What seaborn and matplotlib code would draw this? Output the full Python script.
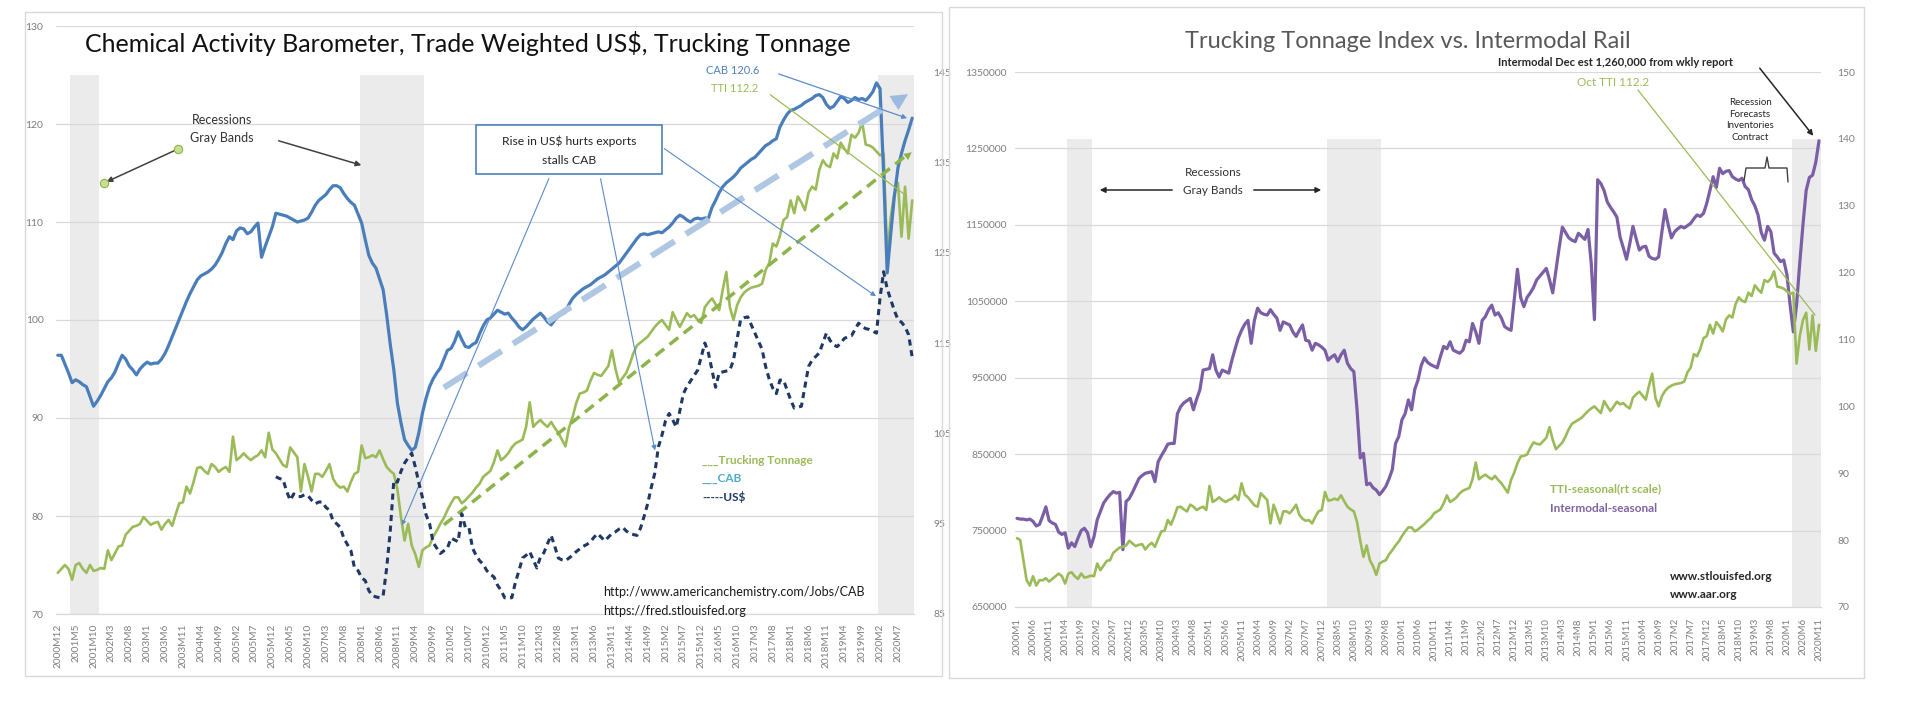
import numpy as np
import pandas as pd
import matplotlib
matplotlib.use("Agg")
import matplotlib.pyplot as plt
import seaborn as sns
from matplotlib.patches import Rectangle, FancyArrowPatch
from matplotlib.lines import Line2D

# ---------------- data ----------------
# Left chart categories: 2000M12 .. 2020M11 (monthly)
left_months = pd.period_range("2000-12", "2020-11", freq="M")
# Right chart categories: 2000M1 .. 2020M11 (monthly)
right_months = pd.period_range("2000-01", "2020-11", freq="M")

# Chemical Activity Barometer (left chart, left axis), 2000M12..2020M11
cab_values = [
    96.4, 96.4, 95.5, 94.6, 93.6, 93.9, 93.7, 93.4, 93.2, 92.2,
    91.2, 91.7, 92.3, 93.0, 93.7, 94.1, 94.7, 95.6, 96.4, 96.0,
    95.3, 94.9, 94.4, 95.0, 95.4, 95.7, 95.5, 95.6, 95.6, 96.0,
    96.6, 97.4, 98.3, 99.2, 100.1, 101.0, 101.9, 102.7, 103.4, 104.1,
    104.5, 104.7, 104.9, 105.2, 105.6, 106.2, 106.9, 107.8, 108.5, 108.2,
    109.1, 109.4, 109.3, 108.8, 109.0, 109.5, 109.9, 106.4, 107.5, 108.5,
    109.5, 110.9, 110.8, 110.7, 110.6, 110.4, 110.2, 110.0, 110.1, 110.2,
    110.4, 111.0, 111.7, 112.2, 112.5, 112.8, 113.3, 113.7, 113.7, 113.5,
    112.9, 112.4, 112.0, 111.7, 110.8, 109.9, 108.2, 106.6, 105.8, 105.3,
    104.2, 103.1, 100.5, 97.5, 94.9, 91.5, 89.5, 87.8, 87.2, 86.7,
    87.0, 88.5, 90.5, 92.0, 93.2, 94.0, 94.6, 95.1, 96.0, 96.9,
    97.1, 97.8, 98.8, 98.0, 97.3, 97.2, 97.5, 97.7, 98.6, 99.4,
    100.0, 100.2, 100.6, 101.0, 100.8, 100.6, 100.7, 100.2, 99.8, 99.3,
    99.0, 99.3, 99.7, 100.1, 100.4, 100.7, 100.3, 99.8, 99.5, 100.0,
    100.4, 100.6, 100.8, 101.6, 102.2, 102.6, 102.9, 103.2, 103.4, 103.6,
    103.9, 104.2, 104.4, 104.6, 104.9, 105.2, 105.5, 105.8, 106.3, 106.8,
    107.3, 107.8, 108.3, 108.7, 108.8, 108.7, 108.8, 108.9, 109.0, 108.9,
    109.2, 109.5, 109.9, 110.4, 110.7, 110.5, 110.2, 110.0, 110.3, 110.4,
    110.3, 110.4, 110.4, 111.5, 112.2, 113.0, 113.6, 114.0, 114.3, 114.6,
    115.0, 115.5, 115.8, 116.1, 116.4, 116.6, 117.0, 117.4, 117.8, 118.0,
    118.3, 118.5, 119.7, 120.4, 121.0, 121.4, 121.5, 121.7, 121.9, 122.2,
    122.4, 122.6, 122.9, 123.0, 122.7, 122.0, 121.6, 121.8, 122.3, 122.8,
    122.6, 122.2, 122.4, 122.7, 122.5, 122.6, 122.4, 122.8, 123.3, 124.2,
    123.6, 115.0, 104.8, 108.8, 112.6, 115.5, 117.0, 118.3, 119.4, 120.6,
]

# Truck Tonnage Index, 2000M1..2020M11 (left chart uses it from 2000M12)
tti_values = [
    80.3, 80.0, 77.0, 74.0, 73.2, 74.6, 73.2, 74.0, 74.0, 74.3, 73.8,
    74.2, 74.6, 75.0, 74.6, 73.5, 75.0, 75.2, 74.6, 74.2, 75.0,
    74.4, 74.5, 74.7, 74.6, 76.5, 75.5, 76.2, 76.9, 77.0, 78.1,
    78.5, 78.9, 79.0, 79.2, 79.9, 79.5, 79.1, 79.3, 79.4, 78.6,
    79.2, 79.6, 79.0, 80.2, 81.3, 81.4, 83.0, 82.3, 83.5, 84.9,
    85.0, 84.6, 84.3, 85.3, 85.0, 84.5, 84.8, 85.0, 84.5, 88.1,
    85.7, 86.0, 86.4, 86.0, 85.7, 86.0, 86.2, 86.7, 86.0, 88.5,
    86.8, 86.4, 85.8, 85.2, 85.0, 87.0, 86.5, 86.0, 82.5, 85.3,
    84.0, 82.5, 84.3, 84.3, 84.0, 84.6, 85.3, 83.8, 83.2, 82.9,
    83.0, 82.5, 83.5, 84.3, 84.5, 87.2, 85.9, 86.0, 86.2, 86.0,
    86.7, 85.8, 85.0, 84.6, 84.3, 82.7, 79.9, 77.5, 79.2, 77.0,
    76.1, 74.8, 76.5, 76.8, 77.0, 77.9, 78.5, 79.2, 79.8, 80.6,
    81.3, 81.9, 81.9, 81.3, 81.6, 82.0, 82.4, 82.9, 83.3, 84.0,
    84.3, 84.6, 85.5, 86.7, 85.7, 86.0, 86.4, 87.0, 87.4, 87.6,
    87.8, 89.1, 91.6, 89.1, 89.5, 89.8, 89.4, 89.1, 89.6, 89.0,
    88.5, 87.8, 87.1, 89.0, 90.1, 91.5, 92.5, 92.6, 92.8, 93.8,
    94.6, 94.4, 94.3, 94.8, 95.3, 96.9, 95.0, 93.6, 94.1, 94.6,
    95.5, 96.6, 97.4, 97.7, 98.0, 98.3, 98.8, 99.3, 99.7, 100.0,
    99.5, 99.0, 100.8, 100.0, 99.3, 100.0, 100.7, 100.3, 100.5, 100.0,
    99.7, 101.3, 101.8, 102.2, 101.6, 101.0, 103.1, 104.9, 101.3, 100.0,
    101.5, 102.3, 102.8, 103.1, 103.3, 103.4, 103.5, 103.7, 105.1, 105.8,
    107.8, 107.5, 108.6, 110.2, 110.5, 112.2, 110.9, 112.6, 112.0, 111.2,
    113.0, 113.6, 113.3, 115.3, 116.3, 115.8, 115.6, 117.0, 116.5, 118.1,
    117.5, 117.0, 118.9, 118.6, 119.1, 120.2, 117.9, 117.8, 117.6, 117.2,
    116.8, 117.0, 106.4, 110.5, 112.9, 114.0, 108.5, 113.6, 108.3, 112.2,
]

# Trade weighted US$ (left chart, right axis), 2006M1..2020M11
usd_start = "2006-01"
usd_values = [
    100.2, 100.0, 99.9, 98.6, 97.6, 98.3, 98.0, 98.0, 98.2, 98.1,
    97.6, 97.2, 97.4, 97.4, 96.8, 96.5, 95.3, 95.0, 94.6, 93.4,
    92.7, 92.0, 90.1, 89.8, 89.0, 88.7, 87.6, 87.0, 86.9, 86.8,
    87.0, 90.1, 94.2, 99.8, 99.6, 100.8, 101.7, 102.3, 102.8, 101.3,
    99.5, 97.9, 96.0, 95.0, 92.9, 92.3, 91.7, 92.0, 92.3, 93.4,
    93.2, 93.0, 96.1, 94.6, 94.6, 92.3, 91.5, 90.9, 90.5, 89.8,
    89.4, 89.1, 88.2, 87.6, 86.8, 86.8, 86.8, 88.5, 89.8, 91.2,
    91.5, 91.9, 91.0, 90.1, 91.3, 91.8, 92.8, 93.7, 92.5, 91.2,
    91.0, 90.9, 91.2, 91.5, 91.9, 92.2, 92.5, 92.7, 93.0, 93.5,
    93.9, 93.5, 93.1, 93.5, 93.9, 94.1, 94.4, 94.6, 94.2, 93.9,
    93.8, 93.7, 94.5, 95.8, 97.2, 99.0, 100.6, 103.5, 104.8, 106.4,
    107.2, 106.5, 105.7, 107.5, 109.4, 110.2, 110.8, 111.4, 112.0, 113.5,
    115.0, 113.9, 112.0, 110.1, 111.7, 111.8, 111.9, 112.0, 113.1, 115.4,
    117.6, 117.8, 117.9, 117.0, 116.1, 115.2, 114.3, 112.4, 111.0, 110.0,
    109.4, 110.9, 110.9, 109.8, 108.7, 107.8, 107.9, 108.0, 110.2, 112.4,
    113.1, 113.5, 113.9, 115.0, 116.1, 115.3, 114.8, 114.6, 115.0, 115.5,
    115.7, 115.8, 116.5, 117.2, 116.8, 116.6, 116.5, 116.3, 116.1, 120.0,
    122.9, 121.0, 119.8, 118.6, 117.6, 117.3, 116.8, 115.9, 113.4,
]

# Intermodal rail units, seasonal (right chart, left axis), thousands, 2000M1..2020M11
intermodal_thousands = [
    766, 765, 765, 764, 765, 762, 756, 758, 769, 781,
    763, 760, 758, 748, 745, 747, 727, 734, 729, 740,
    750, 753, 747, 729, 742, 764, 775, 786, 792, 797,
    801, 799, 800, 725, 788, 792, 800, 809, 818, 822,
    825, 826, 827, 814, 840, 848, 855, 863, 864, 864,
    903, 912, 917, 920, 923, 908, 922, 934, 960, 961,
    962, 980, 960, 951, 960, 958, 956, 973, 988, 1002,
    1012, 1020, 1025, 995, 1025, 1041, 1035, 1033, 1032, 1039,
    1033, 1028, 1012, 1023, 1021, 1019, 1010, 1004, 1012, 1019,
    999, 998, 986, 995, 993, 990, 986, 973, 977, 980,
    971, 980, 986, 969, 962, 958, 908, 845, 851, 810,
    812, 806, 803, 797, 802, 808, 818, 830, 864, 873,
    895, 903, 921, 908, 935, 947, 966, 976, 970, 967,
    965, 963, 978, 991, 988, 997, 986, 984, 982, 986,
    999, 997, 1021, 1010, 995, 1025, 1030, 1039, 1045, 1032,
    1035, 1028, 1017, 1014, 1012, 1052, 1092, 1055, 1043, 1055,
    1061, 1068, 1078, 1083, 1088, 1093, 1078, 1061, 1091, 1120,
    1147, 1140, 1133, 1130, 1128, 1139, 1135, 1131, 1144, 1100,
    1026, 1209, 1204, 1195, 1180, 1173, 1167, 1160, 1134, 1120,
    1105, 1125, 1148, 1132, 1117, 1121, 1122, 1109, 1106, 1105,
    1108, 1140, 1170, 1150, 1133, 1141, 1145, 1148, 1146, 1149,
    1152, 1158, 1163, 1161, 1165, 1178, 1195, 1213, 1199, 1224,
    1217, 1220, 1221, 1213, 1210, 1208, 1211, 1200, 1196, 1183,
    1175, 1163, 1140, 1130, 1148, 1141, 1113, 1108, 1102, 1104,
    1085, 1045, 1010, 1045, 1100, 1150, 1195, 1212, 1215, 1232, 1260,
]

# Recession spans (first/last month shaded)
left_recessions = [("2001-04", "2001-11"), ("2008-01", "2009-06"), ("2020-02", "2020-11")]
right_recessions = [("2001-05", "2001-12"), ("2008-02", "2009-06"), ("2020-03", "2020-11")]

# Trend arrows drawn on the left chart (month, value)
cab_trend = [("2009-12", 93.1), ("2020-10", 123.2)]
tti_trend = [("2009-12", 79.1), ("2020-11", 117.3)]

# Axis ranges / ticks
left_y_ticks = [70, 80, 90, 100, 110, 120, 130]
left_y2_ticks = [85, 95, 105, 115, 125, 135, 145]
right_y_ticks = [650000, 750000, 850000, 950000, 1050000, 1150000, 1250000, 1350000]
right_y2_ticks = [70, 80, 90, 100, 110, 120, 130, 140, 150]

# ---------------- styling ----------------
sns.set_style("white")
plt.rcParams["font.family"] = ["Lato", "DejaVu Sans"]

C_CAB = "#4a7ebb"
C_TTI = "#9bbb59"
C_USD = "#1f3864"
C_INT = "#7b5fa6"
C_BAND = "#ebebeb"
C_GRID = "#d9d9d9"
C_TICK = "#7f7f7f"

W, H = 1912, 728
fig = plt.figure(figsize=(W / 100, H / 100), dpi=100)


def fx(x):
    return x / W


def fy(y):
    return 1 - y / H


def fp(x, y):
    return (fx(x), fy(y))


# chart-area frames
fig.add_artist(Rectangle(fp(25, 676), fx(942) - fx(25), fy(12) - fy(676),
                         transform=fig.transFigure, fill=False, ec="#d9d9d9", lw=1.0))
fig.add_artist(Rectangle(fp(949, 678), fx(1864) - fx(949), fy(7) - fy(678),
                         transform=fig.transFigure, fill=False, ec="#d9d9d9", lw=1.0))

# ---------------- left chart ----------------
axL = fig.add_axes([fx(56), fy(614), fx(914) - fx(56), fy(26) - fy(614)])
axL2 = axL.twinx()

lpos = {str(p): i for i, p in enumerate(left_months)}
rpos = {str(p): i for i, p in enumerate(right_months)}

for a, b in left_recessions:
    axL.fill_between([lpos[a] - 0.5, lpos[b] + 0.5], 70, 125, color=C_BAND, lw=0, zorder=0)

x_left = np.arange(len(left_months))
tti_left = tti_values[len(right_months) - len(left_months):]
df_left = pd.DataFrame({"x": x_left, "cab": cab_values, "tti": tti_left})
usd_x = np.arange(lpos[usd_start], lpos[usd_start] + len(usd_values))
df_usd = pd.DataFrame({"x": usd_x, "usd": usd_values})

sns.lineplot(data=df_left, x="x", y="tti", ax=axL, color=C_TTI, lw=1.9, errorbar=None, legend=False)
sns.lineplot(data=df_left, x="x", y="cab", ax=axL, color=C_CAB, lw=2.3, errorbar=None, legend=False)
sns.lineplot(data=df_usd, x="x", y="usd", ax=axL2, color=C_USD, lw=2.2, errorbar=None, legend=False)
axL2.lines[-1].set_dashes((2.0, 1.5))

# trend arrows
(ta, tv), (tb, tw) = cab_trend
axL.plot([lpos[ta], lpos[tb] - 3], [tv, tw - 0.7], color="#b0c7e4", lw=4.4, dashes=(4.5, 2.2),
         solid_capstyle="butt", zorder=3)
axL.annotate("", xy=(lpos[tb] + 0.5, tw), xytext=(lpos[tb] - 6, tw - 1.5),
             arrowprops=dict(arrowstyle="-|>", mutation_scale=30, color="#9dbbe0", lw=0), zorder=3)
(ga, gv), (gb, gw) = tti_trend
axL.plot([lpos[ga], lpos[gb] - 2], [gv, gw - 0.6], color="#8db44a", lw=2.5, dashes=(3.2, 2.0), zorder=3)
axL.annotate("", xy=(lpos[gb] + 0.5, gw), xytext=(lpos[gb] - 4, gw - 1.3),
             arrowprops=dict(arrowstyle="-|>", mutation_scale=14, color="#8db44a", lw=0), zorder=3)

axL.set_xlim(-0.5, len(left_months) - 0.5)
axL.set_ylim(70, 130)
axL2.set_ylim(85, 150.1)
axL.set_yticks(left_y_ticks)
axL2.set_yticks(left_y2_ticks)
axL.set_yticklabels([str(v) for v in left_y_ticks], fontsize=7.5, color=C_TICK)
axL2.set_yticklabels([str(v) for v in left_y2_ticks], fontsize=7.5, color=C_TICK)
left_labels = [f"{p.year}M{p.month}" for p in left_months]
axL.set_xticks(x_left[::5])
axL.set_xticklabels(left_labels[::5], rotation=90, fontsize=7.3, color=C_TICK)
axL.tick_params(axis="x", length=0, pad=7)
axL.tick_params(axis="y", length=0, pad=9)
axL2.tick_params(axis="y", length=0, pad=14)
axL.grid(axis="y", color=C_GRID, lw=0.9)
axL.set_axisbelow(True)
for ax in (axL, axL2):
    ax.set_xlabel("")
    ax.set_ylabel("")
    for s in ("left", "right", "top"):
        ax.spines[s].set_visible(False)
    ax.spines["bottom"].set_color(C_GRID)

# ---------------- right chart ----------------
axR = fig.add_axes([fx(1015.4), fy(607), fx(1820.6) - fx(1015.4), fy(72) - fy(607)])
axR2 = axR.twinx()

for a, b in right_recessions:
    axR.fill_between([rpos[a] - 0.5, rpos[b] + 0.5], 650000, 1262000, color=C_BAND, lw=0, zorder=0)

x_right = np.arange(len(right_months))
df_right = pd.DataFrame({"x": x_right,
                         "intermodal": np.array(intermodal_thousands) * 1000,
                         "tti": tti_values})
sns.lineplot(data=df_right, x="x", y="intermodal", ax=axR, color=C_INT, lw=2.3, errorbar=None, legend=False)
sns.lineplot(data=df_right, x="x", y="tti", ax=axR2, color=C_TTI, lw=1.9, errorbar=None, legend=False)

axR.set_xlim(-0.5, len(right_months) - 0.5)
axR.set_ylim(650000, 1350000)
axR2.set_ylim(70, 150)
axR.set_yticks(right_y_ticks)
axR.set_yticklabels([str(v) for v in right_y_ticks], fontsize=7.5, color=C_TICK)
axR2.set_yticks(right_y2_ticks)
axR2.set_yticklabels([str(v) for v in right_y2_ticks], fontsize=7.5, color=C_TICK)
right_labels = [f"{p.year}M{p.month}" for p in right_months]
axR.set_xticks(x_right[::5])
axR.set_xticklabels(right_labels[::5], rotation=90, fontsize=7.0, color=C_TICK)
axR.tick_params(axis="x", length=0, pad=8)
axR.tick_params(axis="y", length=0, pad=6)
axR2.tick_params(axis="y", length=0, pad=12)
axR.grid(axis="y", color=C_GRID, lw=0.9)
axR.set_axisbelow(True)
for ax in (axR, axR2):
    ax.set_xlabel("")
    ax.set_ylabel("")
    for s in ("left", "right", "top"):
        ax.spines[s].set_visible(False)
    ax.spines["bottom"].set_color(C_GRID)

# ---------------- annotations: left ----------------
fig.text(*fp(468, 43), "Chemical Activity Barometer, Trade Weighted US$, Trucking Tonnage",
         ha="center", va="center", fontsize=18, color="#111111", parse_math=False)

fig.text(*fp(222, 120), "Recessions", ha="center", va="center", fontsize=9, color="#333333")
fig.text(*fp(222, 138), "Gray Bands", ha="center", va="center", fontsize=9, color="#333333")
fig.add_artist(FancyArrowPatch(fp(178, 149), fp(104, 183), transform=fig.transFigure,
                               arrowstyle="-|>", mutation_scale=8, color="#404040", lw=1.1))
fig.add_artist(Line2D([fx(178), fx(104)], [fy(149), fy(183)], transform=fig.transFigure,
                      ls="none", marker="o", ms=6, mfc="#c6e08f", mec="#8fb34a", mew=0.8))
fig.add_artist(FancyArrowPatch(fp(276, 140), fp(364, 166), transform=fig.transFigure,
                               arrowstyle="-|>", mutation_scale=8, color="#404040", lw=1.1))

fig.add_artist(Rectangle(fp(476, 174), fx(662) - fx(476), fy(125) - fy(174), transform=fig.transFigure,
                         fc="white", ec="#4f81bd", lw=1.2, zorder=5))
fig.text(*fp(569, 141), "Rise in US$ hurts exports", ha="center", va="center", fontsize=8.7,
         color="#222222", zorder=6, parse_math=False)
fig.text(*fp(569, 160), "stalls CAB", ha="center", va="center", fontsize=8.7, color="#222222", zorder=6)

axL.annotate("", xy=(96, 78.8), xytext=fp(550, 176), textcoords="figure fraction",
             arrowprops=dict(arrowstyle="-|>", mutation_scale=6, color="#5b8bc9", lw=0.8),
             annotation_clip=False, zorder=6)
axL2.annotate("", xy=(167.2, 102.8), xytext=fp(600, 176), textcoords="figure fraction",
              arrowprops=dict(arrowstyle="-|>", mutation_scale=7, color="#5b8bc9", lw=0.8),
              annotation_clip=False, zorder=6)
axL2.annotate("", xy=(229.5, 120.0), xytext=fp(662, 147), textcoords="figure fraction",
              arrowprops=dict(arrowstyle="-|>", mutation_scale=7, color="#5b8bc9", lw=0.8),
              annotation_clip=False, zorder=6)

fig.text(*fp(733, 70), "CAB 120.6", ha="center", va="center", fontsize=8, color="#4f81bd")
fig.text(*fp(735, 89), "TTI 112.2", ha="center", va="center", fontsize=8, color=C_TTI)
axL.annotate("", xy=(238.3, 120.5), xytext=fp(776, 73), textcoords="figure fraction",
             arrowprops=dict(arrowstyle="-|>", mutation_scale=7, color="#5b8bc9", lw=0.9),
             annotation_clip=False, zorder=6)
axL.annotate("", xy=(238.0, 112.5), xytext=fp(768, 93), textcoords="figure fraction",
             arrowprops=dict(arrowstyle="-", color=C_TTI, lw=0.9),
             annotation_clip=False, zorder=6)

fig.text(*fp(702, 460), "___Trucking Tonnage", ha="left", va="center", fontsize=8.5,
         fontweight="bold", color=C_TTI)
fig.text(*fp(702, 478), "___CAB", ha="left", va="center", fontsize=8.5, fontweight="bold", color="#4bacc6")
fig.text(*fp(702, 497), "-----US$", ha="left", va="center", fontsize=8.5, fontweight="bold",
         color=C_USD, parse_math=False)

fig.text(*fp(603, 592), "http://www.americanchemistry.com/Jobs/CAB", ha="left", va="center",
         fontsize=9, color="#1a1a1a")
fig.text(*fp(603, 611), "https://fred.stlouisfed.org", ha="left", va="center", fontsize=9, color="#1a1a1a")

# ---------------- annotations: right ----------------
fig.text(*fp(1408, 42), "Trucking Tonnage Index vs. Intermodal Rail", ha="center", va="center",
         fontsize=17, color="#595959")
fig.text(*fp(1615, 63), "Intermodal Dec est 1,260,000 from wkly report", ha="center", va="center",
         fontsize=8, fontweight="bold", color="#262626")
fig.add_artist(FancyArrowPatch(fp(1758, 66), fp(1815, 138), transform=fig.transFigure,
                               arrowstyle="-|>", mutation_scale=8, color="#262626", lw=1.1))
fig.text(*fp(1613, 82), "Oct TTI 112.2", ha="center", va="center", fontsize=8.5, color=C_TTI)
fig.add_artist(Line2D([fx(1638), fx(1815)], [fy(90), fy(315)], transform=fig.transFigure,
                      color=C_TTI, lw=0.9))

fig.text(*fp(1750, 120), "Recession\nForecasts\nInventories\nContract", ha="center", va="center",
         fontsize=7, color="#262626", linespacing=1.35)
brace_x = [1744, 1746, 1765, 1767, 1769, 1787, 1788]
brace_y = [181, 168, 168, 157, 168, 168, 182]
fig.add_artist(Line2D([fx(v) for v in brace_x], [fy(v) for v in brace_y], transform=fig.transFigure,
                      color="#404040", lw=1.0))

fig.text(*fp(1213, 172), "Recessions", ha="center", va="center", fontsize=8.5, color="#333333")
fig.text(*fp(1213, 190), "Gray Bands", ha="center", va="center", fontsize=8.5, color="#333333")
fig.add_artist(FancyArrowPatch(fp(1175, 190), fp(1097, 190), transform=fig.transFigure,
                               arrowstyle="-|>", mutation_scale=8, color="#262626", lw=1.1))
fig.add_artist(FancyArrowPatch(fp(1251, 190), fp(1324, 190), transform=fig.transFigure,
                               arrowstyle="-|>", mutation_scale=8, color="#262626", lw=1.1))

fig.text(*fp(1550, 489), "TTI-seasonal(rt scale)", ha="left", va="center", fontsize=8.5,
         fontweight="bold", color=C_TTI)
fig.text(*fp(1550, 508), "Intermodal-seasonal", ha="left", va="center", fontsize=8.5,
         fontweight="bold", color="#8064a2")
fig.text(*fp(1670, 577), "www.stlouisfed.org", ha="left", va="center", fontsize=8.5,
         fontweight="bold", color="#262626")
fig.text(*fp(1670, 594), "www.aar.org", ha="left", va="center", fontsize=8.5,
         fontweight="bold", color="#262626")

fig.savefig("out.png", dpi=100)
